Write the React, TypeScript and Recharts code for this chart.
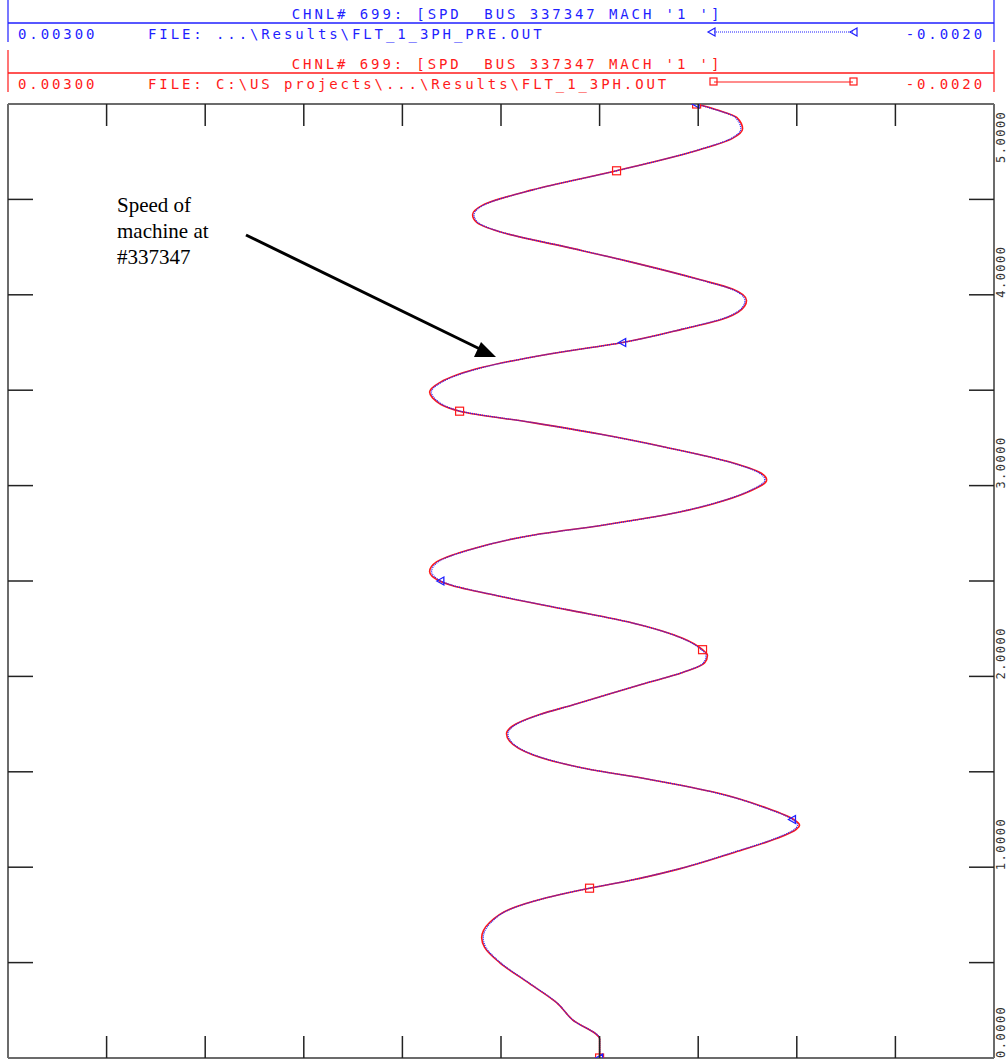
import { LineChart, Line, XAxis, YAxis } from "recharts";

const TIME = [
  0, 0.1, 0.2, 0.29, 0.39, 0.5, 0.58, 0.63, 0.71, 0.78, 0.84, 0.89, 0.93, 0.99, 1.08, 1.15, 1.2, 1.22, 1.25, 1.31,
  1.39, 1.46, 1.52, 1.59, 1.66, 1.7, 1.74, 1.8, 1.85, 1.96, 2.02, 2.07, 2.11, 2.14, 2.2, 2.28, 2.35, 2.42, 2.48, 2.5,
  2.55, 2.6, 2.66, 2.74, 2.79, 2.86, 2.9, 2.97, 3.03, 3.07, 3.12, 3.2, 3.27, 3.33, 3.39, 3.46, 3.49, 3.54, 3.62, 3.69,
  3.75, 3.82, 3.88, 3.94, 3.97, 4.03, 4.08, 4.17, 4.25, 4.33, 4.38, 4.42, 4.47, 4.55, 4.65, 4.76, 4.82, 4.87, 4.93, 4.97,
  5.0,
];

// FLT_1_3PH.OUT (red)
const SPD_FLT = [
  0, 0, 0.000137, 0.000218, 0.000355, 0.000507, 0.000583, 0.000598, 0.000558, 0.000456, 0.000269, 0.000051, -0.000152,
  -0.0004, -0.00069, -0.000897, -0.000999, -0.001014, -0.000984, -0.000847, -0.000593, -0.000254, 0.000086, 0.00034,
  0.000456, 0.000472, 0.000441, 0.000304, 0.000137, -0.00022, -0.000421, -0.000532, -0.000547, -0.000522, -0.000421,
  -0.000167, 0.000167, 0.000507, 0.000761, 0.000811, 0.000862, 0.000827, 0.000674, 0.00034, 0, -0.0004, -0.00056,
  -0.000761, -0.000847, -0.000811, -0.000674, -0.00034, 0, 0.00034, 0.00071, 0.000847, 0.000862, 0.000811, 0.000593,
  0.000254, -0.000117, -0.000421, -0.000644, -0.000735, -0.000745, -0.000674, -0.000507, -0.000167, 0.000167, 0.000507,
  0.000624, 0.000644, 0.000593, 0.00034, -0.000086, -0.000507, -0.000674, -0.000725, -0.000695, -0.000593, -0.000492,
];

// FLT_1_3PH_PRE.OUT (blue)
const SPD_PRE = [
  0, 0, 0.000137, 0.000217, 0.000353, 0.000503, 0.000577, 0.00059, 0.000551, 0.000452, 0.000268, 0.000051, -0.000151,
  -0.000397, -0.000684, -0.000889, -0.00099, -0.001004, -0.000978, -0.000842, -0.00059, -0.000253, 0.000086, 0.000337,
  0.00045, 0.000465, 0.000436, 0.000302, 0.000137, -0.000218, -0.000418, -0.000526, -0.00054, -0.000516, -0.000417,
  -0.000166, 0.000166, 0.000503, 0.000754, 0.000805, 0.000852, 0.000819, 0.000669, 0.000338, 0, -0.000397, -0.000556,
  -0.000754, -0.000838, -0.000803, -0.000669, -0.000338, 0, 0.000338, 0.000704, 0.000839, 0.000853, 0.000804, 0.000589,
  0.000253, -0.000117, -0.000418, -0.000638, -0.000728, -0.000737, -0.000668, -0.000504, -0.000166, 0.000166, 0.000503,
  0.000618, 0.000637, 0.000588, 0.000338, -0.000086, -0.000503, -0.000668, -0.000716, -0.000688, -0.000588, -0.000489,
];

const PRE_MARKS = [0, 1.25, 2.5, 3.75, 5];
const FLT_MARKS = [0, 0.89, 2.14, 3.39, 4.65, 5];

const SPD_TICKS = [-0.002, -0.0015, -0.001, -0.0005, 0, 0.0005, 0.001, 0.0015, 0.002, 0.0025, 0.003];
const TIME_TICKS = [0, 0.5, 1, 1.5, 2, 2.5, 3, 3.5, 4, 4.5, 5];
const TIME_LABELS: Record<number, string> = { 0: "0.0000", 1: "1.0000", 2: "2.0000", 3: "3.0000", 4: "4.0000", 5: "5.0000" };

const data = TIME.map((t, i) => ({ t, flt: SPD_FLT[i], pre: SPD_PRE[i] }));

const BLUE = "#1f1fff";
const RED = "#ff1a1a";
const FRAME = "#6b6b6b";
const MONO = "'DejaVu Sans Mono', monospace";

const isEnd = (v: number, list: number[]) => v === list[0] || v === list[list.length - 1];

const BottomTick = (p: any) =>
  isEnd(p.payload.value, SPD_TICKS) ? <g /> : <line x1={p.x} x2={p.x} y1={p.y} y2={p.y - 22} stroke="#222" strokeWidth={1.5} />;

const TopTick = (p: any) =>
  isEnd(p.payload.value, SPD_TICKS) ? <g /> : <line x1={p.x} x2={p.x} y1={p.y} y2={p.y + 22} stroke="#222" strokeWidth={1.5} />;

const LeftTick = (p: any) =>
  isEnd(p.payload.value, TIME_TICKS) ? <g /> : <line x1={p.x} x2={p.x + 25} y1={p.y} y2={p.y} stroke="#222" strokeWidth={1.5} />;

const RightTick = (p: any) => {
  const v = p.payload.value;
  const label = TIME_LABELS[v];
  let start = p.y + 3;
  if (v === 5) start = p.y + 59;
  if (v === 0) start = p.y;
  return (
    <g>
      {!isEnd(v, TIME_TICKS) && <line x1={p.x - 25} x2={p.x} y1={p.y} y2={p.y} stroke="#222" strokeWidth={1.5} />}
      {label && (
        <text
          x={1005}
          y={start}
          transform={`rotate(-90, 1005, ${start})`}
          fontFamily={MONO}
          fontSize={12}
          letterSpacing={1.5}
          fill="#333"
        >
          {label}
        </text>
      )}
    </g>
  );
};

const triDot = (p: any) => {
  const { cx, cy, payload, index } = p;
  if (!PRE_MARKS.includes(payload.t)) return <g key={`pd${index}`} />;
  return (
    <polygon
      key={`pd${index}`}
      points={`${cx - 4},${cy} ${cx + 3},${cy - 4} ${cx + 3},${cy + 4}`}
      fill="none"
      stroke={BLUE}
      strokeWidth={1.3}
    />
  );
};

const squareDot = (p: any) => {
  const { cx, cy, payload, index } = p;
  if (!FLT_MARKS.includes(payload.t)) return <g key={`fd${index}`} />;
  return <rect key={`fd${index}`} x={cx - 4} y={cy - 4} width={8} height={8} fill="none" stroke={RED} strokeWidth={1.2} />;
};

const txt = { fontFamily: MONO, fontSize: 14, letterSpacing: 2.9, whiteSpace: "pre" as const };

function Header() {
  const rows = [
    { color: BLUE, top: 0, file: "FILE: ...\\Results\\FLT_1_3PH_PRE.OUT", dashed: true },
    { color: RED, top: 50, file: "FILE: C:\\US projects\\...\\Results\\FLT_1_3PH.OUT", dashed: false },
  ];
  return (
    <g>
      {rows.map((r) => (
        <g key={r.top}>
          <line x1={8} x2={8} y1={r.top} y2={r.top + 42} stroke={r.color} strokeWidth={1.2} />
          <line x1={994} x2={994} y1={r.top} y2={r.top + 42} stroke={r.color} strokeWidth={1.2} />
          <line x1={8} x2={994} y1={r.top + 23} y2={r.top + 23} stroke={r.color} strokeWidth={1.5} />
          <text x={507} y={r.top + 19} textAnchor="middle" style={txt} fill={r.color}>
            {"CHNL# 699: [SPD  BUS 337347 MACH '1 ']"}
          </text>
          <text x={18} y={r.top + 39} style={txt} fill={r.color}>
            0.00300
          </text>
          <text x={148} y={r.top + 39} style={txt} fill={r.color}>
            {r.file}
          </text>
          <text x={985} y={r.top + 39} textAnchor="end" style={txt} fill={r.color}>
            -0.0020
          </text>
          <line
            x1={714}
            x2={853}
            y1={r.top + 32}
            y2={r.top + 32}
            stroke={r.color}
            strokeWidth={1.2}
            strokeDasharray={r.dashed ? "1 1" : undefined}
          />
          {r.dashed ? (
            <g fill="none" stroke={r.color} strokeWidth={1.2}>
              <polygon points={`708,${r.top + 32} 715,${r.top + 28} 715,${r.top + 36}`} />
              <polygon points={`850,${r.top + 32} 857,${r.top + 28} 857,${r.top + 36}`} />
            </g>
          ) : (
            <g fill="none" stroke={r.color} strokeWidth={1.2}>
              <rect x={710} y={r.top + 28} width={7} height={7} />
              <rect x={850} y={r.top + 28} width={7} height={7} />
            </g>
          )}
        </g>
      ))}
    </g>
  );
}

function Annotation() {
  return (
    <g>
      <text fontFamily="'Liberation Serif', 'Times New Roman', serif" fontSize={21} fill="#000">
        <tspan x={117} y={212}>Speed of</tspan>
        <tspan x={117} y={238}>machine at</tspan>
        <tspan x={117} y={264}>#337347</tspan>
      </text>
      <line x1={246} y1={235} x2={482} y2={350} stroke="#000" strokeWidth={3} />
      <polygon points="496,357 474,357 481,342" fill="#000" />
    </g>
  );
}

export default function App() {
  return (
    <div style={{ position: "absolute", left: 0, top: 0, width: 1007, height: 1061, background: "#fff" }}>
      <LineChart
        width={1007}
        height={1061}
        data={data}
        layout="vertical"
        margin={{ top: 103, right: 12, bottom: 2, left: 7 }}
      >
        <XAxis
          xAxisId="b"
          type="number"
          domain={[-0.002, 0.003]}
          reversed
          ticks={SPD_TICKS}
          interval={0}
          orientation="bottom"
          height={1}
          tickSize={0}
          tickMargin={0}
          tick={BottomTick}
          axisLine={{ stroke: FRAME, strokeWidth: 2 }}
          allowDataOverflow
        />
        <XAxis
          xAxisId="t"
          type="number"
          domain={[-0.002, 0.003]}
          reversed
          ticks={SPD_TICKS}
          interval={0}
          orientation="top"
          height={1}
          tickSize={0}
          tickMargin={0}
          tick={TopTick}
          axisLine={{ stroke: FRAME, strokeWidth: 2 }}
          allowDataOverflow
        />
        <YAxis
          yAxisId="l"
          dataKey="t"
          type="number"
          domain={[0, 5]}
          reversed
          ticks={TIME_TICKS}
          interval={0}
          orientation="left"
          width={1}
          tickSize={0}
          tickMargin={0}
          tick={LeftTick}
          axisLine={{ stroke: FRAME, strokeWidth: 2 }}
          allowDataOverflow
        />
        <YAxis
          yAxisId="r"
          dataKey="t"
          type="number"
          domain={[0, 5]}
          reversed
          ticks={TIME_TICKS}
          interval={0}
          orientation="right"
          width={1}
          tickSize={0}
          tickMargin={0}
          tick={RightTick}
          axisLine={{ stroke: FRAME, strokeWidth: 2 }}
          allowDataOverflow
        />
        <Line
          xAxisId="b"
          yAxisId="r"
          dataKey="flt"
          type="monotone"
          stroke={RED}
          strokeWidth={1.6}
          dot={squareDot}
          activeDot={false}
          isAnimationActive={false}
        />
        <Line
          xAxisId="b"
          yAxisId="r"
          dataKey="pre"
          type="monotone"
          stroke={BLUE}
          strokeWidth={1.3}
          strokeDasharray="1 1"
          dot={triDot}
          activeDot={false}
          isAnimationActive={false}
        />
      </LineChart>
      <svg width={1007} height={1061} style={{ position: "absolute", left: 0, top: 0, pointerEvents: "none" }}>
        <Header />
        <Annotation />
      </svg>
    </div>
  );
}
